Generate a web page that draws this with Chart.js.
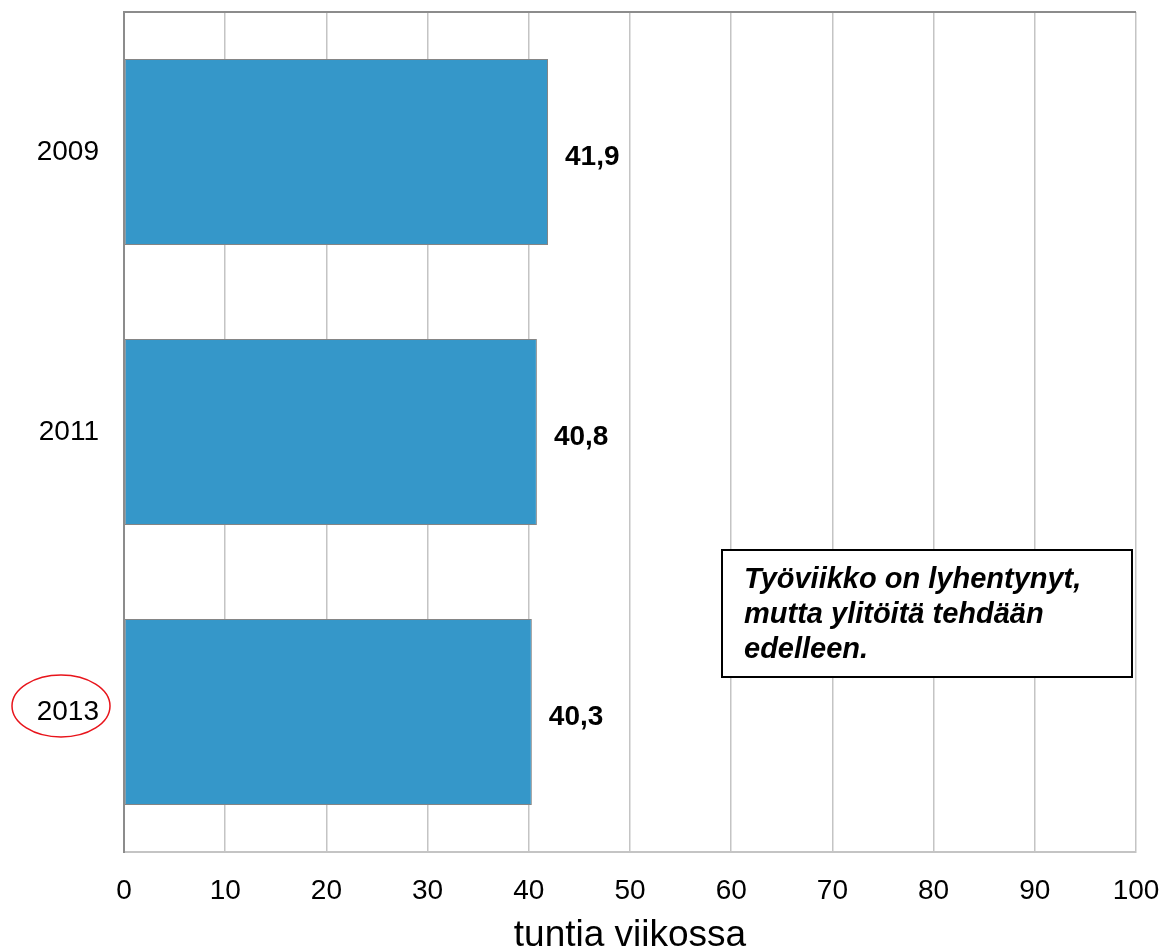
<!DOCTYPE html>
<html>
<head>
<meta charset="utf-8">
<script src="https://cdn.jsdelivr.net/npm/chart.js@4"></script>
<style>
  html, body { margin: 0; padding: 0; background: #fff; }
  #wrap { width: 1169px; height: 952px; position: relative; }
</style>
</head>
<body>
<div id="wrap"><canvas id="hoursChart"></canvas></div>
<script>
// Data
const years = ["2009", "2011", "2013"]
const hours = [41.9, 40.8, 40.3]
const hourLabels = ["41,9", "40,8", "40,3"]
const axisTicks = [0, 10, 20, 30, 40, 50, 60, 70, 80, 90, 100]
const noteLines = ["Työviikko on lyhentynyt,", "mutta ylitöitä tehdään", "edelleen."]

const FONT = "Arial, 'Liberation Sans', sans-serif"

// value labels, top frame line, note box and the red ring round 2013
const extras = {
  id: "extras",
  afterDatasetsDraw(chart) {
    const ctx = chart.ctx
    const area = chart.chartArea
    const meta = chart.getDatasetMeta(0)
    ctx.save()

    // frame line at the top of the plot
    ctx.strokeStyle = "#8c8c8c"
    ctx.lineWidth = 2
    ctx.beginPath()
    ctx.moveTo(area.left, area.top)
    ctx.lineTo(area.right, area.top)
    ctx.stroke()

    // value labels
    ctx.fillStyle = "#000"
    ctx.font = "bold 28px " + FONT
    ctx.textAlign = "left"
    ctx.textBaseline = "middle"
    meta.data.forEach((bar, i) => {
      ctx.fillText(hourLabels[i], bar.x + 17, bar.y + 5)
    })

    // note box
    const bx = 722, by = 550, bw = 410, bh = 127
    ctx.fillStyle = "#fff"
    ctx.fillRect(bx, by, bw, bh)
    ctx.strokeStyle = "#000"
    ctx.lineWidth = 2
    ctx.strokeRect(bx, by, bw, bh)
    ctx.fillStyle = "#000"
    ctx.font = "italic bold 29px " + FONT
    ctx.textBaseline = "alphabetic"
    noteLines.forEach((line, i) => {
      ctx.fillText(line, bx + 22, by + 38 + i * 35)
    })

    // red ring around the last year label
    const y = chart.scales.y.getPixelForValue(2)
    ctx.strokeStyle = "#e8141b"
    ctx.lineWidth = 1.5
    ctx.beginPath()
    ctx.ellipse(61, y - 6, 49, 31, 0, 0, Math.PI * 2)
    ctx.stroke()

    ctx.restore()
  },
}

new Chart(document.getElementById("hoursChart"), {
  type: "bar",
  data: {
    labels: years,
    datasets: [
      {
        data: hours,
        backgroundColor: "#3597c9",
        borderColor: "#858585",
        borderWidth: 1,
        borderSkipped: false,
        categoryPercentage: 1,
        barPercentage: 0.664,
      },
    ],
  },
  options: {
    indexAxis: "y",
    responsive: true,
    maintainAspectRatio: false,
    animation: false,
    layout: { padding: { top: 12, right: 33, left: 0, bottom: 0 } },
    plugins: {
      legend: { display: false },
      tooltip: { enabled: false },
    },
    scales: {
      x: {
        min: 0,
        max: 100,
        afterBuildTicks: (scale) => {
          scale.ticks = axisTicks.map((v) => ({ value: v }))
        },
        afterFit: (scale) => {
          scale.height = 100
        },
        ticks: {
          color: "#000",
          padding: 0,
          font: { family: FONT, size: 28 },
        },
        grid: {
          color: "#c4c4c4",
          lineWidth: 1.5,
          drawTicks: true,
          tickLength: 22,
          tickColor: "rgba(0,0,0,0)",
        },
        border: { color: "#c4c4c4", width: 2 },
        title: {
          display: true,
          text: "tuntia viikossa",
          color: "#000",
          font: { family: FONT, size: 37, lineHeight: 1 },
          padding: { top: 0, bottom: -2 },
        },
      },
      y: {
        afterFit: (scale) => {
          scale.width = 124
        },
        ticks: {
          color: "#000",
          padding: 0,
          font: { family: FONT, size: 28, lineHeight: 0.8 },
        },
        grid: {
          display: true,
          drawOnChartArea: false,
          drawTicks: true,
          tickLength: 25,
          tickColor: "rgba(0,0,0,0)",
        },
        border: { color: "#8c8c8c", width: 2 },
      },
    },
  },
  plugins: [extras],
})
</script>
</body>
</html>
